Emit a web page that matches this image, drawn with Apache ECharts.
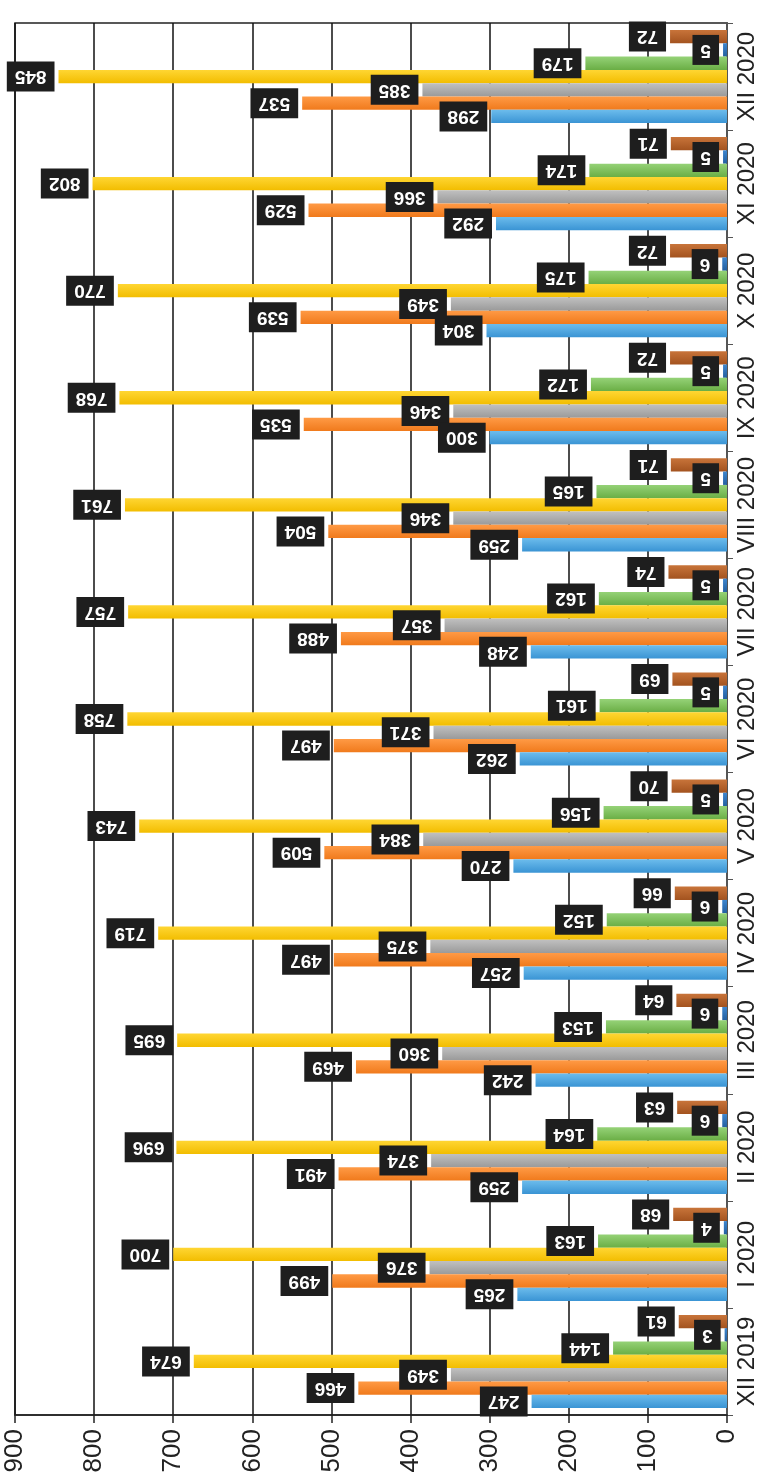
<!DOCTYPE html>
<html><head><meta charset="utf-8">
<script src="https://cdn.jsdelivr.net/npm/echarts@6/dist/echarts.min.js"></script>
<style>html,body{margin:0;padding:0;background:#fff}#c{width:771px;height:1484px}</style>
</head><body><div id="c"></div>
<script>
const categories = ['XII 2019','I 2020','II 2020','III 2020','IV 2020','V 2020','VI 2020','VII 2020','VIII 2020','IX 2020','X 2020','XI 2020','XII 2020'];
const sBlue   = [247,265,259,242,257,270,262,248,259,300,304,292,298];
const sOrange = [466,499,491,469,497,509,497,488,504,535,539,529,537];
const sGray   = [349,376,374,360,375,384,371,357,346,346,349,366,385];
const sYellow = [674,700,696,695,719,743,758,757,761,768,770,802,845];
const sGreen  = [144,163,164,153,152,156,161,162,165,172,175,174,179];
const sNavy   = [3,4,6,6,6,5,5,5,5,5,6,5,5];
const sBrown  = [61,68,63,64,66,70,69,74,71,72,72,71,72];
const valueTicks = [0,100,200,300,400,500,600,700,800,900];

const colors = [
  ['#6cbcec','#3a94d4'],
  ['#ff9a45','#f07a1c'],
  ['#c0c0c0','#9a9a9a'],
  ['#ffd633','#f2bd00'],
  ['#95d277','#6aae45'],
  ['#3d86cf','#235f9f'],
  ['#c8743a','#a3531f']
];
const seriesData = [sBlue,sOrange,sGray,sYellow,sGreen,sNavy,sBrown];

const series = seriesData.map((d,i)=>({
    type:'bar', data:d, barGap:'0%', barCategoryGap:'13%',
    itemStyle:{color:new echarts.graphic.LinearGradient(0,0,0,1,[{offset:0,color:colors[i][0]},{offset:1,color:colors[i][1]}])},
    label:{show:true,position:'left',distance:4,rotate:180,align:'left',verticalAlign:'middle',
      backgroundColor:'#1e1e1e',color:'#fff',fontWeight:'bold',fontSize:19,fontFamily:'Liberation Sans, Arial',padding:[6,8,5,8]}
  })).reverse();

const chart = echarts.init(document.getElementById('c'));
chart.setOption({
  backgroundColor:'#fff',
  animation:false,
  grid:{left:15,right:44,top:23,bottom:69,show:true,borderColor:'#222',borderWidth:1.5,backgroundColor:'transparent'},
  xAxis:{
    type:'value', inverse:true, min:valueTicks[0], max:valueTicks[valueTicks.length-1], interval:100,
    axisLine:{show:true,lineStyle:{color:'#222',width:1.5}},
    axisTick:{show:true,length:8,lineStyle:{color:'#222',width:1.5}},
    splitLine:{show:true,lineStyle:{color:'#111',width:1.5}},
    axisLabel:{rotate:90,fontSize:26,color:'#222',fontFamily:'Liberation Sans, Arial',margin:14}
  },
  yAxis:{
    type:'category', position:'right', data:categories,
    axisLine:{show:true,lineStyle:{color:'#555',width:2}},
    axisTick:{show:true,length:6,lineStyle:{color:'#555'}},
    axisLabel:{interval:0,hideOverlap:false,rotate:90,fontSize:24,color:'#222',fontFamily:'Liberation Sans, Arial',margin:8,align:'center',verticalAlign:'top'}
  },
  series: series
});
</script></body></html>
